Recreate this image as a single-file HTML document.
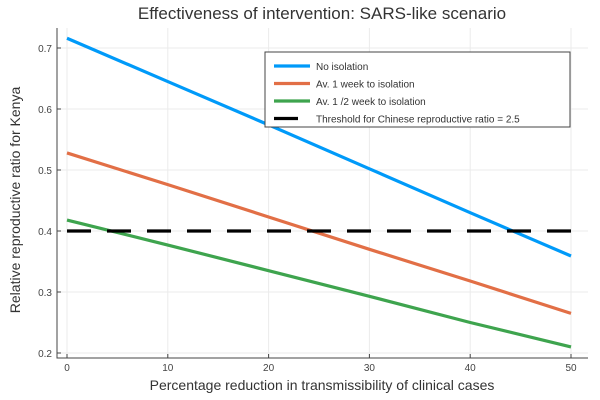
<!DOCTYPE html>
<html><head><meta charset="utf-8"><style>
body{margin:0;background:#fff;}
svg{display:block;font-family:"Liberation Sans",sans-serif;}
</style></head><body>
<svg id="chart" width="600" height="400">
<text x="322" y="19" font-size="17" text-anchor="middle" fill="#333">Effectiveness of intervention: SARS-like scenario</text>
<text x="322" y="390" font-size="14" text-anchor="middle" fill="#333">Percentage reduction in transmissibility of clinical cases</text>
<text transform="translate(20,200) rotate(-90)" font-size="14" text-anchor="middle" fill="#333">Relative reproductive ratio for Kenya</text>
<g id="grid"></g><g id="axes"></g><g id="series"></g>
<g id="legend">
<rect x="265" y="52" width="305" height="75" fill="#fff" stroke="#444" stroke-width="1"/>
</g>
</svg>
<script>
const xs=[0,10,20,30,40,50];
const noIso=[0.716,0.645,0.574,0.502,0.430,0.359];
const week1=[0.528,0.476,0.423,0.370,0.318,0.265];
const halfWeek=[0.418,0.377,0.335,0.293,0.250,0.210];
const threshold=0.4;
const xTicks=[0,10,20,30,40,50];
const yTicks=[0.2,0.3,0.4,0.5,0.6,0.7];
const seriesNames=["No isolation","Av. 1 week to isolation","Av. 1 /2 week to isolation","Threshold for Chinese reproductive ratio = 2.5"];
const X=v=>67+v*(571-67)/50;
const Y=v=>48+(0.7-v)*610;
const NS="http://www.w3.org/2000/svg";
function mk(tag,attrs,parent){const e=document.createElementNS(NS,tag);for(const k in attrs)e.setAttribute(k,attrs[k]);document.getElementById(parent).appendChild(e);return e;}
const L=57,R=588,T=28,B=358;
xTicks.forEach(t=>{
 const g=mk('line',{x1:X(t),x2:X(t),y1:T,y2:B,stroke:'#ebebeb'},'grid');
 
 
 const tk=mk('line',{x1:X(t),x2:X(t),y1:B,y2:B-4,stroke:'#444'},'axes');
 
 
 const tx=mk('text',{x:X(t),y:B+13,'font-size':10,'text-anchor':'middle',fill:'#444'},'axes');
 tx.textContent=t;
 
 
});
yTicks.forEach(t=>{
 const g=mk('line',{x1:L,x2:R,y1:Y(t),y2:Y(t),stroke:'#ebebeb'},'grid');
 
 
 const tk=mk('line',{x1:L,x2:L+4,y1:Y(t),y2:Y(t),stroke:'#444'},'axes');
 
 
 const tx=mk('text',{x:L-5,y:Y(t)+4,'font-size':10,'text-anchor':'end',fill:'#444'},'axes');
 tx.textContent=t.toFixed(1);
 
 
});
const ax=mk('path',{d:`M${L},${T}V${B}H${R}`,fill:'none',stroke:'#444'},'axes');


const cols=['#009af9','#e26f46','#3ea44e','#000'];
[[noIso,'no-isolation-line'],[week1,'one-week-line'],[halfWeek,'half-week-line']].forEach(([d,n],i)=>{
 const p=mk('polyline',{points:xs.map((x,j)=>X(x)+','+Y(d[j])).join(' '),fill:'none',stroke:cols[i],'stroke-width':3.2},'series');
 
 
});
const th=mk('line',{x1:X(xs[0]),x2:X(xs[xs.length-1]),y1:Y(threshold),y2:Y(threshold),stroke:'#000','stroke-width':3.2,'stroke-dasharray':'24 16'},'series');


seriesNames.forEach((s,i)=>{
 const y=66+i*17.5;
 const l=mk('line',{x1:274,x2:310,y1:y,y2:y,stroke:cols[i],'stroke-width':3.2},'legend');
 if(i==3){l.setAttribute('x2','298');}
 
 
 const t=mk('text',{x:316,y:y+4,'font-size':10,fill:'#333'},'legend');
 t.textContent=s;
 
 
});
</script>
</body></html>
